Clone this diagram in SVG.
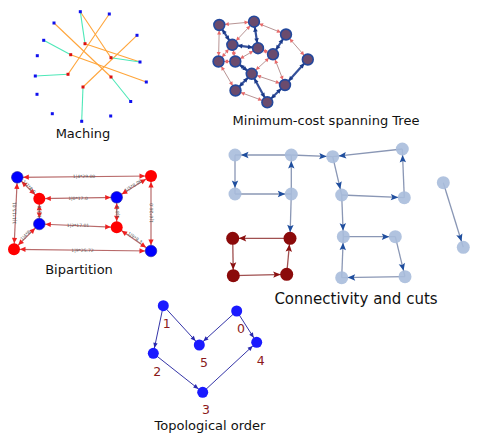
<svg xmlns="http://www.w3.org/2000/svg" width="480" height="444" viewBox="0 0 480 444">
<style>
.title{font-family:"DejaVu Sans",sans-serif;font-size:13px;fill:#111;text-anchor:middle}
.big{font-size:15px}
.num{font-family:"DejaVu Sans",sans-serif;font-size:12.5px;fill:#8b1a1a;text-anchor:middle}
.elab{font-family:"DejaVu Sans",sans-serif;font-size:4.5px;fill:#555;text-anchor:middle}
.mo{stroke:#ffa53a;stroke-width:1.1}
.mg{stroke:#4ee8b8;stroke-width:1.1}
.mb{fill:#1010ee}
.mr{fill:#dd1010}
.tn{stroke:#b89494;stroke-width:1;marker-start:url(#mtr);marker-end:url(#mtr)}
.tk{stroke:#34509a;stroke-width:2.2;marker-start:url(#mtb);marker-end:url(#mtb)}
.mst{fill:#6b4b6d;stroke:#24489c;stroke-width:1.6}
.be{stroke:#b86a6a;stroke-width:1.2;marker-start:url(#bar);marker-end:url(#bar)}
.bb{fill:#0000ff;stroke:#2020a0;stroke-width:0.6}
.br{fill:#ff0000}
.ce{stroke:#8a97b5;stroke-width:1.3;marker-end:url(#car)}
.cr{stroke:#a05050;stroke-width:1.3;marker-end:url(#crr)}
.cn{fill:#a9bcdc;opacity:0.9}
.cd{fill:#8b0a0a}
.te{stroke:#3535a8;stroke-width:1;marker-end:url(#tar)}
.tv{fill:#1a1aff}
</style>
<defs>
<marker id="mtr" markerUnits="userSpaceOnUse" orient="auto-start-reverse" overflow="visible" refX="9.5" refY="0" markerWidth="6" markerHeight="6"><path d="M0,-2 L4,0 L0,2 z" fill="#e86a6a"/></marker>
<marker id="mtb" markerUnits="userSpaceOnUse" orient="auto-start-reverse" overflow="visible" refX="10" refY="0" markerWidth="6" markerHeight="6"><path d="M0,-2.3 L4.5,0 L0,2.3 z" fill="#1a3a8a"/></marker>
<marker id="bar" markerUnits="userSpaceOnUse" orient="auto-start-reverse" overflow="visible" refX="11.5" refY="0" markerWidth="6" markerHeight="6"><path d="M0,-2.6 L5.5,0 L0,2.6 z" fill="#ee2020"/></marker>
<marker id="car" markerUnits="userSpaceOnUse" orient="auto" overflow="visible" refX="13.5" refY="0" markerWidth="8" markerHeight="8"><path d="M0,-3.2 L7.5,0 L0,3.2 L1.5,0 z" fill="#1f4e9e"/></marker>
<marker id="crr" markerUnits="userSpaceOnUse" orient="auto" overflow="visible" refX="13.5" refY="0" markerWidth="8" markerHeight="8"><path d="M0,-3.2 L7.5,0 L0,3.2 L1.5,0 z" fill="#8b1010"/></marker>
<marker id="tar" markerUnits="userSpaceOnUse" orient="auto" overflow="visible" refX="10.5" refY="0" markerWidth="6" markerHeight="6"><path d="M0,-2.2 L5,0 L0,2.2 z" fill="#2828b0"/></marker>
</defs>
<rect width="480" height="444" fill="#ffffff"/>

<!-- Matching -->
<g id="matching-edges">
<line class="mo" x1="80.3" y1="11.7" x2="111" y2="57.7"/>
<line class="mo" x1="109.3" y1="14" x2="68" y2="74.3"/>
<line class="mo" x1="54" y1="23" x2="111" y2="77"/>
<line class="mo" x1="137" y1="35.3" x2="83" y2="87"/>
<line class="mo" x1="85" y1="43.7" x2="140" y2="62"/>
<line class="mo" x1="70.7" y1="54.7" x2="146.3" y2="82"/>
<line class="mg" x1="80.3" y1="11.7" x2="85" y2="43.7"/>
<line class="mg" x1="43.7" y1="40.3" x2="70.7" y2="54.7"/>
<line class="mg" x1="111" y1="57.7" x2="140" y2="62"/>
<line class="mg" x1="35.3" y1="76" x2="68" y2="74.3"/>
<line class="mg" x1="111" y1="77" x2="130.7" y2="101.5"/>
<line class="mg" x1="83" y1="87" x2="81.7" y2="121.3"/>
</g>
<g id="matching-nodes">
<rect class="mb" x="78.8" y="10.2" width="3" height="3"/>
<rect class="mb" x="107.8" y="12.5" width="3" height="3"/>
<rect class="mb" x="52.5" y="21.5" width="3" height="3"/>
<rect class="mb" x="135.5" y="33.8" width="3" height="3"/>
<rect class="mb" x="42.2" y="38.8" width="3" height="3"/>
<rect class="mb" x="35.8" y="54.2" width="3" height="3"/>
<rect class="mb" x="138.5" y="60.5" width="3" height="3"/>
<rect class="mb" x="33.8" y="74.5" width="3" height="3"/>
<rect class="mb" x="144.8" y="80.5" width="3" height="3"/>
<rect class="mb" x="35.5" y="92.8" width="3" height="3"/>
<rect class="mb" x="129.2" y="100" width="3" height="3"/>
<rect class="mb" x="50.8" y="112.2" width="3" height="3"/>
<rect class="mb" x="80.2" y="119.8" width="3" height="3"/>
<rect class="mb" x="109.2" y="114.5" width="3" height="3"/>
<rect class="mr" x="83.5" y="42.2" width="3" height="3"/>
<rect class="mr" x="69.2" y="53.2" width="3" height="3"/>
<rect class="mr" x="109.5" y="56.2" width="3" height="3"/>
<rect class="mr" x="66.5" y="72.8" width="3" height="3"/>
<rect class="mr" x="109.5" y="75.5" width="3" height="3"/>
<rect class="mr" x="81.5" y="85.5" width="3" height="3"/>
</g>
<text class="title" x="83" y="137.5">Maching</text>

<!-- Minimum-cost spanning tree -->
<g id="mst-edges">
<line class="tn" x1="219.3" y1="25" x2="254" y2="21.7"/>
<line class="tn" x1="254" y1="21.7" x2="286" y2="34.5"/>
<line class="tn" x1="219.3" y1="25" x2="218.5" y2="61.5"/>
<line class="tn" x1="232.3" y1="44.8" x2="254" y2="21.7"/>
<line class="tn" x1="232.3" y1="44.8" x2="218.5" y2="61.5"/>
<line class="tn" x1="232.3" y1="44.8" x2="235.3" y2="61.5"/>
<line class="tn" x1="258" y1="48.2" x2="235.3" y2="61.5"/>
<line class="tn" x1="258" y1="48.2" x2="273" y2="54.3"/>
<line class="tn" x1="286" y1="34.5" x2="307.8" y2="59.5"/>
<line class="tn" x1="218.5" y1="61.5" x2="235.3" y2="61.5"/>
<line class="tn" x1="218.5" y1="61.5" x2="235.5" y2="90.5"/>
<line class="tn" x1="273" y1="54.3" x2="251.7" y2="73.8"/>
<line class="tn" x1="251.7" y1="73.8" x2="285" y2="85"/>
<line class="tn" x1="273" y1="54.3" x2="285" y2="85"/>
<line class="tn" x1="235.5" y1="90.5" x2="267.3" y2="102.3"/>
<line class="tk" x1="219.3" y1="25" x2="232.3" y2="44.8"/>
<line class="tk" x1="254" y1="21.7" x2="258" y2="48.2"/>
<line class="tk" x1="232.3" y1="44.8" x2="258" y2="48.2"/>
<line class="tk" x1="286" y1="34.5" x2="273" y2="54.3"/>
<line class="tk" x1="235.3" y1="61.5" x2="251.7" y2="73.8"/>
<line class="tk" x1="251.7" y1="73.8" x2="235.5" y2="90.5"/>
<line class="tk" x1="251.7" y1="73.8" x2="267.3" y2="102.3"/>
<line class="tk" x1="285" y1="85" x2="267.3" y2="102.3"/>
<line class="tk" x1="307.8" y1="59.5" x2="285" y2="85"/>
</g>
<g id="mst-nodes">
<circle class="mst" cx="219.3" cy="25" r="5.4"/>
<circle class="mst" cx="254" cy="21.7" r="5.4"/>
<circle class="mst" cx="286" cy="34.5" r="5.4"/>
<circle class="mst" cx="232.3" cy="44.8" r="5.4"/>
<circle class="mst" cx="258" cy="48.2" r="5.4"/>
<circle class="mst" cx="273" cy="54.3" r="5.4"/>
<circle class="mst" cx="218.5" cy="61.5" r="5.4"/>
<circle class="mst" cx="235.3" cy="61.5" r="5.4"/>
<circle class="mst" cx="307.8" cy="59.5" r="5.4"/>
<circle class="mst" cx="251.7" cy="73.8" r="5.4"/>
<circle class="mst" cx="235.5" cy="90.5" r="5.4"/>
<circle class="mst" cx="285" cy="85" r="5.4"/>
<circle class="mst" cx="267.3" cy="102.3" r="5.4"/>
</g>
<text class="title" x="326" y="125">Minimum-cost spanning Tree</text>

<!-- Bipartition -->
<g id="bip-edges">
<line class="be" x1="17.3" y1="177.3" x2="151" y2="176"/>
<line class="be" x1="17.3" y1="177.3" x2="39.3" y2="198.7"/>
<line class="be" x1="17.3" y1="177.3" x2="14" y2="249.3"/>
<line class="be" x1="151" y1="176" x2="116.7" y2="197.3"/>
<line class="be" x1="151" y1="176" x2="151" y2="251"/>
<line class="be" x1="39.3" y1="198.7" x2="116.7" y2="197.3"/>
<line class="be" x1="39.3" y1="198.7" x2="39.3" y2="224"/>
<line class="be" x1="116.7" y1="197.3" x2="116.7" y2="227.3"/>
<line class="be" x1="39.3" y1="224" x2="116.7" y2="227.3"/>
<line class="be" x1="39.3" y1="224" x2="14" y2="249.3"/>
<line class="be" x1="116.7" y1="227.3" x2="151" y2="251"/>
<line class="be" x1="14" y1="249.3" x2="151" y2="251"/>
</g>
<g id="bip-labels">
<text class="elab" x="84" y="178.2">1|4*29.00</text>
<text class="elab" x="78" y="199.6">1|0*17.0</text>
<text class="elab" x="78" y="227.3">1|2*17.01</text>
<text class="elab" x="82.5" y="251.8">1|9*25.72</text>
<text class="elab" transform="translate(15.5,213) rotate(-90)">1|1*15.01</text>
<text class="elab" transform="translate(153,213) rotate(-90)">1|6*26.0</text>
<text class="elab" transform="translate(28,188) rotate(45)">1|7*8.0</text>
<text class="elab" transform="translate(134,187) rotate(-32)">1|5*8.06</text>
<text class="elab" transform="translate(41,211.5) rotate(-90)">1|3*9</text>
<text class="elab" transform="translate(118.5,212) rotate(-90)">1|8*9</text>
<text class="elab" transform="translate(26.5,236.5) rotate(-45)">1|4*8</text>
<text class="elab" transform="translate(134,239) rotate(35)">1|9*8.3</text>
</g>
<g id="bip-nodes">
<circle class="bb" cx="17.3" cy="177.3" r="5.8"/>
<circle class="br" cx="151" cy="176" r="6"/>
<circle class="br" cx="39.3" cy="198.7" r="6"/>
<circle class="bb" cx="116.7" cy="197.3" r="5.8"/>
<circle class="bb" cx="39.3" cy="224" r="5.8"/>
<circle class="br" cx="116.7" cy="227.3" r="6"/>
<circle class="br" cx="14" cy="249.3" r="6"/>
<circle class="bb" cx="151" cy="251" r="5.8"/>
</g>
<text class="title" x="79" y="274">Bipartition</text>

<!-- Connectivity and cuts -->
<g id="conn-edges">
<line class="ce" x1="291.3" y1="155" x2="235" y2="155"/>
<line class="ce" x1="235" y1="155" x2="235" y2="194"/>
<line class="ce" x1="235" y1="194" x2="291.3" y2="194"/>
<line class="ce" x1="291.3" y1="194" x2="291.3" y2="155"/>
<line class="ce" x1="291.3" y1="194" x2="290" y2="238.3"/>
<line class="ce" x1="291.3" y1="155" x2="332.7" y2="156.7"/>
<line class="ce" x1="402.3" y1="149" x2="332.7" y2="156.7"/>
<line class="ce" x1="404.3" y1="197.7" x2="402.3" y2="149"/>
<line class="ce" x1="332.7" y1="156.7" x2="341.7" y2="195"/>
<line class="ce" x1="341.7" y1="195" x2="404.3" y2="197.7"/>
<line class="ce" x1="341.7" y1="195" x2="343.3" y2="236.7"/>
<line class="ce" x1="341.7" y1="277.7" x2="343.3" y2="236.7"/>
<line class="ce" x1="343.3" y1="236.7" x2="395.3" y2="236.7"/>
<line class="ce" x1="395.3" y1="236.7" x2="405" y2="276.7"/>
<line class="ce" x1="405" y1="276.7" x2="341.7" y2="277.7"/>
<line class="ce" x1="443.3" y1="182.7" x2="463.3" y2="247.3"/>
<line class="cr" x1="290" y1="238.3" x2="232.7" y2="238.3"/>
<line class="cr" x1="232.7" y1="238.3" x2="233.3" y2="275.7"/>
<line class="cr" x1="233.3" y1="275.7" x2="286.7" y2="274.3"/>
<line class="cr" x1="286.7" y1="274.3" x2="290" y2="238.3"/>
</g>
<g id="conn-nodes">
<circle class="cn" cx="235" cy="155" r="6.5"/>
<circle class="cn" cx="291.3" cy="155" r="6.5"/>
<circle class="cn" cx="332.7" cy="156.7" r="6.5"/>
<circle class="cn" cx="402.3" cy="149" r="6.5"/>
<circle class="cn" cx="235" cy="194" r="6.5"/>
<circle class="cn" cx="291.3" cy="194" r="6.5"/>
<circle class="cn" cx="341.7" cy="195" r="6.5"/>
<circle class="cn" cx="404.3" cy="197.7" r="6.5"/>
<circle class="cn" cx="443.3" cy="182.7" r="6.5"/>
<circle class="cn" cx="463.3" cy="247.3" r="6.5"/>
<circle class="cn" cx="343.3" cy="236.7" r="6.5"/>
<circle class="cn" cx="395.3" cy="236.7" r="6.5"/>
<circle class="cn" cx="341.7" cy="277.7" r="6.5"/>
<circle class="cn" cx="405" cy="276.7" r="6.5"/>
<circle class="cd" cx="232.7" cy="238.3" r="6.5"/>
<circle class="cd" cx="290" cy="238.3" r="6.5"/>
<circle class="cd" cx="233.3" cy="275.7" r="6.5"/>
<circle class="cd" cx="286.7" cy="274.3" r="6.5"/>
</g>
<text class="title big" x="356" y="303.5">Connectivity and cuts</text>

<!-- Topological order -->
<g id="topo-edges">
<line class="te" x1="163.3" y1="305.7" x2="153.3" y2="353.3"/>
<line class="te" x1="163.3" y1="305.7" x2="199.3" y2="345"/>
<line class="te" x1="236.7" y1="311" x2="199.3" y2="345"/>
<line class="te" x1="236.7" y1="311" x2="256.7" y2="342.3"/>
<line class="te" x1="153.3" y1="353.3" x2="202.7" y2="392.3"/>
<line class="te" x1="202.7" y1="392.3" x2="256.7" y2="342.3"/>
</g>
<g id="topo-nodes">
<g id="t1"><circle class="tv" cx="163.3" cy="305.7" r="5.5"/><text class="num" x="166.7" y="327.5">1</text></g>
<g id="t0"><circle class="tv" cx="236.7" cy="311" r="5.5"/><text class="num" x="241" y="332.5">0</text></g>
<g id="t2"><circle class="tv" cx="153.3" cy="353.3" r="5.5"/><text class="num" x="157.3" y="375.5">2</text></g>
<g id="t5"><circle class="tv" cx="199.3" cy="345" r="5.5"/><text class="num" x="204" y="367">5</text></g>
<g id="t4"><circle class="tv" cx="256.7" cy="342.3" r="5.5"/><text class="num" x="260.7" y="364.5">4</text></g>
<g id="t3"><circle class="tv" cx="202.7" cy="392.3" r="5.5"/><text class="num" x="206" y="413.5">3</text></g>
</g>
<text class="title" x="210" y="430">Topological order</text>
</svg>
